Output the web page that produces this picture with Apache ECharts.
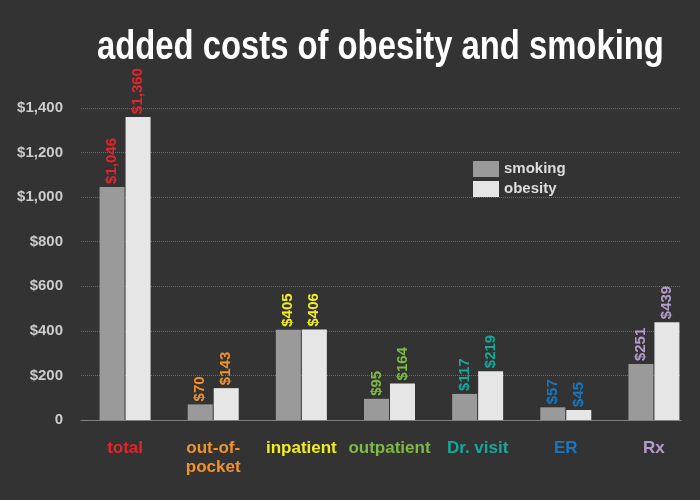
<!DOCTYPE html>
<html>
<head>
<meta charset="utf-8">
<script src="https://cdn.jsdelivr.net/npm/echarts@6/dist/echarts.min.js"></script>
<style>html,body{margin:0;padding:0;background:#333333;}#c{width:700px;height:500px;}</style>
</head>
<body>
<div id="c"></div>
<script>
const categories = ['total', 'out-of-\npocket', 'inpatient', 'outpatient', 'Dr. visit', 'ER', 'Rx'];
const categoryColors = ['#e3262c', '#f4922a', '#f2ec24', '#7dbb42', '#16a89b', '#1b76bd', '#b49ccb'];
const smoking = [1046, 70, 405, 95, 117, 57, 251];
const obesity = [1360, 143, 406, 164, 219, 45, 439];
const yTicks = [0, 200, 400, 600, 800, 1000, 1200, 1400];
const titleText = 'added costs of obesity and smoking';

const FONT = "'Liberation Sans', Arial, sans-serif";
const chart = echarts.init(document.getElementById('c'));

function mkData(vals) {
  return vals.map((v, i) => ({ value: v, label: { color: categoryColors[i] } }));
}
const money = v => '$' + v.toLocaleString('en-US');

chart.setOption({
  backgroundColor: '#333333',
  animation: false,
  graphic: [{
    type: 'text', left: 97, top: 28, scaleX: 0.82, scaleY: 1,
    style: { text: titleText, fill: '#ffffff', fontFamily: FONT, fontWeight: 'bold', fontSize: 40 }
  }],
  legend: {
    orient: 'vertical', left: 468, top: 156,
    itemWidth: 26, itemHeight: 16, itemGap: 4,
    icon: 'rect',
    textStyle: { color: '#dddddd', fontFamily: FONT, fontWeight: 'bold', fontSize: 15 },
    data: ['smoking', 'obesity']
  },
  grid: [
    { left: 81, right: 19, top: 108, bottom: 80 },
    { left: 81, right: 2, top: 108, bottom: 80 }
  ],
  xAxis: [
    { type: 'category', gridIndex: 0, data: categories,
      axisLine: { lineStyle: { color: '#808080', width: 1 } },
      axisTick: { show: false }, axisLabel: { show: false } },
    { type: 'category', gridIndex: 1,
      data: categories.map((c, i) => ({ value: c, textStyle: { color: categoryColors[i] } })),
      axisLine: { show: false }, axisTick: { show: false },
      axisLabel: { margin: 19, fontFamily: FONT, fontWeight: 'bold', fontSize: 17, lineHeight: 19, interval: 0 } }
  ],
  yAxis: [
    { type: 'value', gridIndex: 0, min: yTicks[0], max: yTicks[yTicks.length - 1], interval: 200,
      axisLine: { show: false }, axisTick: { show: false },
      splitLine: { lineStyle: { color: '#6a6a6a', type: 'dotted', width: 1 } },
      axisLabel: { margin: 18, color: '#cccccc', fontFamily: FONT, fontWeight: 'bold', fontSize: 15,
        formatter: v => v === 0 ? '0' : money(v) } },
    { type: 'value', gridIndex: 1, min: yTicks[0], max: yTicks[yTicks.length - 1], interval: 200,
      show: false, splitLine: { show: false } }
  ],
  series: [
    { name: 'smoking', type: 'bar', xAxisIndex: 1, yAxisIndex: 1, data: mkData(smoking),
      barWidth: 25, barGap: '4%',
      itemStyle: { color: '#9a9a9a' },
      label: { show: true, position: 'top', rotate: 90, align: 'left', verticalAlign: 'middle', distance: 3,
        fontFamily: FONT, fontWeight: 'bold', fontSize: 15, formatter: p => money(p.value) } },
    { name: 'obesity', type: 'bar', xAxisIndex: 1, yAxisIndex: 1, data: mkData(obesity),
      barWidth: 25, barGap: '4%',
      itemStyle: { color: '#e6e6e6' },
      label: { show: true, position: 'top', rotate: 90, align: 'left', verticalAlign: 'middle', distance: 3,
        fontFamily: FONT, fontWeight: 'bold', fontSize: 15, formatter: p => money(p.value) } }
  ]
});
</script>
</body>
</html>
